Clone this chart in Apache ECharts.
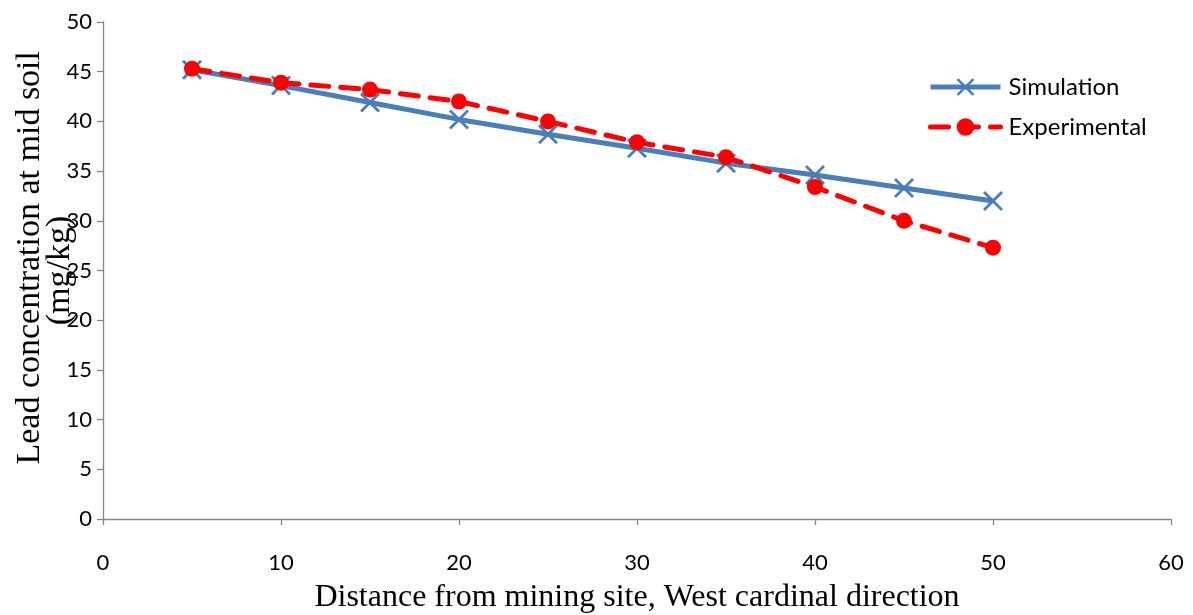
<!DOCTYPE html>
<html>
<head>
<meta charset="utf-8">
<script src="https://cdn.jsdelivr.net/npm/echarts@6/dist/echarts.min.js"></script>
<style>
  html, body { margin: 0; padding: 0; background: #fff; }
  #chart { width: 1193px; height: 615px; }
</style>
</head>
<body>
<div id="chart"></div>
<script>
// Distance from the mining site (m), West cardinal direction
const distances = [5, 10, 15, 20, 25, 30, 35, 40, 45, 50];
// Lead concentration at mid soil (mg/kg)
const simulation = [45.2, 43.6, 41.9, 40.2, 38.7, 37.3, 35.8, 34.6, 33.3, 32.0];
const experimental = [45.3, 43.9, 43.2, 42.0, 40.0, 37.9, 36.4, 33.4, 30.0, 27.3];

const xTicks = { min: 0, max: 60, interval: 10 };
const yTicks = { min: 0, max: 50, interval: 5 };

const pairs = (xs, ys) => xs.map((x, i) => [x, ys[i]]);

// filled "x" mark
const crossPath = 'path://M2,0 L10,8 L18,0 L20,2 L12,10 L20,18 L18,20 L10,12 L2,20 L0,18 L8,10 L0,2 Z';

const labelFont = { fontFamily: 'Lato, "Open Sans", sans-serif', fontSize: 22, color: '#000' };
const serif = '"Liberation Serif", "Times New Roman", serif';
const axisGray = '#868686';

const chart = echarts.init(document.getElementById('chart'), null, { renderer: 'canvas' });
chart.setOption({
  animation: false,
  backgroundColor: '#fff',
  grid: { left: 103, right: 22, top: 22, bottom: 96, containLabel: false, outerBoundsMode: 'none' },
  legend: {
    orient: 'vertical',
    left: 923,
    top: 70,
    itemWidth: 70,
    itemHeight: 22,
    itemGap: 16,
    lineStyle: { width: 5 },
    textStyle: { fontFamily: 'Lato, "Open Sans", sans-serif', fontSize: 24, color: '#000', padding: [0, 0, 0, 3] },
    data: ['Simulation', 'Experimental']
  },
  xAxis: {
    type: 'value',
    min: xTicks.min, max: xTicks.max, interval: xTicks.interval,
    name: 'Distance from mining site, West cardinal direction',
    nameLocation: 'middle',
    nameGap: 63,
    nameMoveOverlap: false,
    nameTextStyle: { fontFamily: serif, fontSize: 32, color: '#000' },
    axisLine: { show: true, lineStyle: { color: axisGray, width: 1.3 } },
    axisTick: { show: true, inside: false, length: 6, lineStyle: { color: axisGray, width: 1.3 } },
    axisLabel: Object.assign({ margin: 33 }, labelFont),
    splitLine: { show: false }
  },
  yAxis: {
    type: 'value',
    min: yTicks.min, max: yTicks.max, interval: yTicks.interval,
    name: '   Lead concentration at mid soil\n(mg/kg)',
    nameLocation: 'middle',
    nameRotate: 90,
    nameGap: 28,
    nameMoveOverlap: false,
    nameTextStyle: { fontFamily: serif, fontSize: 34, color: '#000', lineHeight: 30 },
    axisLine: { show: true, lineStyle: { color: axisGray, width: 1.3 } },
    axisTick: { show: true, inside: false, length: 6, lineStyle: { color: axisGray, width: 1.3 } },
    axisLabel: Object.assign({ margin: 11 }, labelFont),
    splitLine: { show: false }
  },
  series: [
    {
      name: 'Simulation',
      type: 'line',
      data: pairs(distances, simulation),
      symbol: crossPath,
      symbolSize: 20,
      itemStyle: { color: '#4a7ebb' },
      lineStyle: { color: '#4a7ebb', width: 5 },
      z: 2
    },
    {
      name: 'Experimental',
      type: 'line',
      data: pairs(distances, experimental),
      symbol: 'circle',
      symbolSize: 16,
      itemStyle: { color: '#ff0000' },
      lineStyle: { color: '#ff0000', width: 5, type: [18, 12], cap: 'round' },
      z: 3
    }
  ]
});
</script>
</body>
</html>
